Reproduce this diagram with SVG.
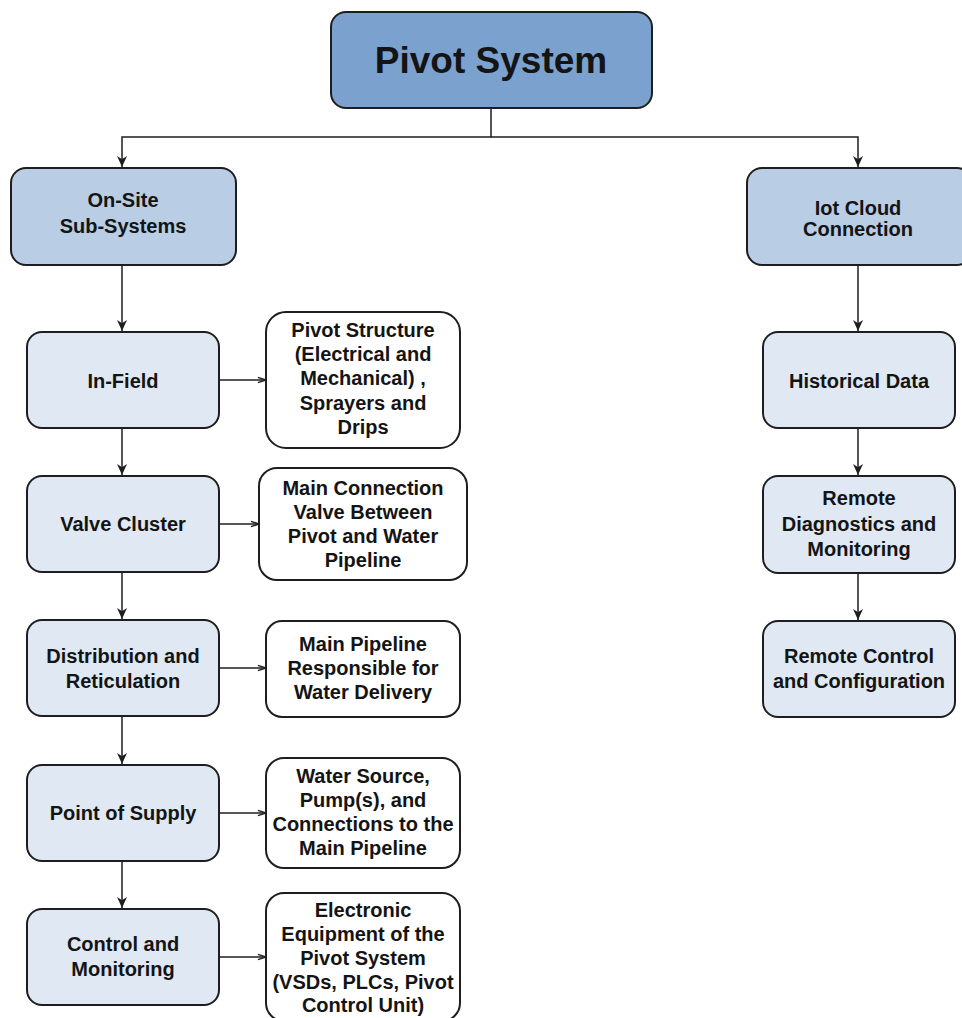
<svg xmlns="http://www.w3.org/2000/svg" width="962" height="1018" viewBox="0 0 962 1018">
<style>
.box{stroke:#1e1e1e;stroke-width:2}
.top{fill:#7ba2cf}
.mid{fill:#b9cde5}
.leaf{fill:#dfe8f3}
.desc{fill:#ffffff}
text{font-family:"Liberation Sans",Arial,sans-serif;font-weight:bold;fill:#141414;text-anchor:middle;font-size:20px}
.big{font-size:37px}
.conn{fill:none;stroke:#1e1e1e;stroke-width:1.5}
</style>
<defs>
<marker id="fa" viewBox="0 0 10 10" refX="10" refY="5" markerWidth="11" markerHeight="11" markerUnits="userSpaceOnUse" orient="auto">
<path d="M0,0.5 L10,5 L0,9.5 L3,5 Z" fill="#1e1e1e"/>
</marker>
<marker id="oa" viewBox="0 0 10 10" refX="10" refY="5" markerWidth="9" markerHeight="9" markerUnits="userSpaceOnUse" orient="auto">
<path d="M1,2 L10,5 L1,8" fill="none" stroke="#1e1e1e" stroke-width="1.5"/>
</marker>
</defs>
<g id="connectors">
<path class="conn" d="M491,108 V137 H122 V167" marker-end="url(#fa)"/>
<path class="conn" d="M491,137 H858 V167" marker-end="url(#fa)"/>
<path class="conn" d="M122,265 V331" marker-end="url(#fa)"/>
<path class="conn" d="M122,428 V475" marker-end="url(#fa)"/>
<path class="conn" d="M122,572 V619" marker-end="url(#fa)"/>
<path class="conn" d="M122,716 V764" marker-end="url(#fa)"/>
<path class="conn" d="M122,861 V908" marker-end="url(#fa)"/>
<path class="conn" d="M858,265 V331" marker-end="url(#fa)"/>
<path class="conn" d="M858,428 V475" marker-end="url(#fa)"/>
<path class="conn" d="M858,573 V620" marker-end="url(#fa)"/>
<path class="conn" d="M219,380 H266" marker-end="url(#oa)"/>
<path class="conn" d="M219,524 H259" marker-end="url(#oa)"/>
<path class="conn" d="M219,668 H266" marker-end="url(#oa)"/>
<path class="conn" d="M219,813 H266" marker-end="url(#oa)"/>
<path class="conn" d="M219,957 H266" marker-end="url(#oa)"/>
</g>
<g id="pivot-system">
<rect class="box top" x="331" y="12" width="321" height="96" rx="15"/>
<text class="big" x="491" y="73">Pivot System</text>
</g>
<g id="on-site">
<rect class="box mid" x="11" y="168" width="225" height="97" rx="15"/>
<text x="123" y="207">On-Site</text>
<text x="123" y="233">Sub-Systems</text>
</g>
<g id="iot-cloud">
<rect class="box mid" x="747" y="168" width="225" height="97" rx="15"/>
<text x="858" y="215">Iot Cloud</text>
<text x="858" y="236">Connection</text>
</g>
<g id="in-field">
<rect class="box leaf" x="27" y="332" width="192" height="96" rx="15"/>
<text x="123" y="388">In-Field</text>
</g>
<g id="valve-cluster">
<rect class="box leaf" x="27" y="476" width="192" height="96" rx="15"/>
<text x="123" y="531">Valve Cluster</text>
</g>
<g id="distribution">
<rect class="box leaf" x="27" y="620" width="192" height="96" rx="15"/>
<text x="123" y="663">Distribution and</text>
<text x="123" y="688">Reticulation</text>
</g>
<g id="point-of-supply">
<rect class="box leaf" x="27" y="765" width="192" height="96" rx="15"/>
<text x="123" y="820">Point of Supply</text>
</g>
<g id="control-monitoring">
<rect class="box leaf" x="27" y="909" width="192" height="96" rx="15"/>
<text x="123" y="951">Control and</text>
<text x="123" y="976">Monitoring</text>
</g>
<g id="pivot-structure">
<rect class="box desc" x="266" y="312" width="194" height="136" rx="20"/>
<text x="363" y="337">Pivot Structure</text>
<text x="363" y="361">(Electrical and</text>
<text x="363" y="385">Mechanical) ,</text>
<text x="363" y="410">Sprayers and</text>
<text x="363" y="434">Drips</text>
</g>
<g id="main-connection">
<rect class="box desc" x="259" y="468" width="208" height="112" rx="18"/>
<text x="363" y="495">Main Connection</text>
<text x="363" y="519">Valve Between</text>
<text x="363" y="543">Pivot and Water</text>
<text x="363" y="567">Pipeline</text>
</g>
<g id="main-pipeline">
<rect class="box desc" x="266" y="621" width="194" height="96" rx="16"/>
<text x="363" y="651">Main Pipeline</text>
<text x="363" y="675">Responsible for</text>
<text x="363" y="699">Water Delivery</text>
</g>
<g id="water-source">
<rect class="box desc" x="266" y="758" width="194" height="110" rx="18"/>
<text x="363" y="783">Water Source,</text>
<text x="363" y="807">Pump(s), and</text>
<text x="363" y="831">Connections to the</text>
<text x="363" y="855">Main Pipeline</text>
</g>
<g id="electronic-equipment">
<rect class="box desc" x="266" y="893" width="194" height="128" rx="18"/>
<text x="363" y="917">Electronic</text>
<text x="363" y="941">Equipment of the</text>
<text x="363" y="965">Pivot System</text>
<text x="363" y="989">(VSDs, PLCs, Pivot</text>
<text x="363" y="1012">Control Unit)</text>
</g>
<g id="historical-data">
<rect class="box leaf" x="763" y="332" width="192" height="96" rx="15"/>
<text x="859" y="388">Historical Data</text>
</g>
<g id="remote-diagnostics">
<rect class="box leaf" x="763" y="476" width="192" height="97" rx="15"/>
<text x="859" y="505">Remote</text>
<text x="859" y="531">Diagnostics and</text>
<text x="859" y="556">Monitoring</text>
</g>
<g id="remote-control">
<rect class="box leaf" x="763" y="621" width="192" height="96" rx="15"/>
<text x="859" y="663">Remote Control</text>
<text x="859" y="688">and Configuration</text>
</g>
</svg>
